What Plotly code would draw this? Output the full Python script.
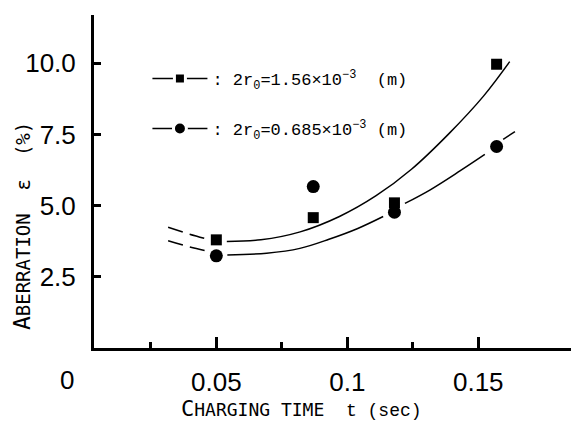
import plotly.graph_objects as go

# ---- data ----
t_points = [0.050, 0.087, 0.118, 0.157]
eps_large = [3.80, 4.58, 5.10, 9.97]      # 2r0 = 1.56e-3 m  (squares)
eps_small = [3.24, 5.67, 4.77, 7.08]      # 2r0 = 0.685e-3 m (circles)

# fitted curve for squares
up_dash_t = [0.0316, 0.0387, 0.0463]
up_dash_e = [4.24, 4.03, 3.83]
up_solid_t = [0.054, 0.067, 0.082, 0.097, 0.111, 0.1245, 0.139, 0.152, 0.162]
up_solid_e = [3.74, 3.80, 4.08, 4.62, 5.35, 6.28, 7.55, 8.85, 10.06]

# fitted curve for circles
lo_dash_t = [0.0316, 0.0387, 0.0463]
lo_dash_e = [3.77, 3.58, 3.41]
lo_solid_a_t = [0.0542, 0.0692, 0.0819, 0.093, 0.1040, 0.1137]
lo_solid_a_e = [3.27, 3.33, 3.50, 3.82, 4.20, 4.62]
lo_solid_b_t = [0.122, 0.1315, 0.143, 0.1525]
lo_solid_b_e = [5.08, 5.55, 6.22, 6.80]
lo_tail_t = [0.1595, 0.164]
lo_tail_e = [7.33, 7.60]

y_ticks = [2.5, 5.0, 7.5, 10.0]
y_labels = ["2.5", "5.0", "7.5", "10.0"]
y_long_ticks = [5.0, 10.0]
x_ticks = [0.05, 0.1, 0.15]
x_labels = ["0.05", "0.1", "0.15"]
x_minor = [0.025, 0.075, 0.125]

label_large = ":\u00a02r<sub>0</sub>=1.56×10<sup>−3</sup>\u00a0\u00a0(m)"
label_small = ":\u00a02r<sub>0</sub>=0.685×10<sup>−3</sup>\u00a0(m)"

TICKFONT = dict(family="Liberation Sans, Arial, sans-serif", size=26, color="black")

fig = go.Figure()

def seg(x, y, dash="solid"):
    fig.add_trace(go.Scatter(x=x, y=y, mode="lines", line=dict(color="black", width=1.5, dash=dash, shape="spline"),
                             showlegend=False, hoverinfo="skip"))

seg(up_dash_t, up_dash_e, "15px,8px")
seg(up_solid_t, up_solid_e)
seg(lo_dash_t, lo_dash_e, "15px,8px")
seg(lo_solid_a_t, lo_solid_a_e)
seg(lo_solid_b_t, lo_solid_b_e)
seg(lo_tail_t, lo_tail_e)

fig.add_trace(go.Scatter(x=t_points, y=eps_large, mode="markers",
                         marker=dict(symbol="square", size=11, color="black"), showlegend=False))
fig.add_trace(go.Scatter(x=t_points, y=eps_small, mode="markers",
                         marker=dict(symbol="circle", size=13, color="black"), showlegend=False))

# legend entries
fig.add_trace(go.Scatter(x=[None], y=[None], mode="lines+markers", name=label_large,
                         line=dict(color="black", width=1.5),
                         marker=dict(symbol="square", size=11, color="black", line=dict(color="white", width=3)),
                         legend="legend"))
fig.add_trace(go.Scatter(x=[None], y=[None], mode="lines+markers", name=label_small,
                         line=dict(color="black", width=1.5),
                         marker=dict(symbol="circle", size=13, color="black", line=dict(color="white", width=3)),
                         legend="legend2"))

legend_common = dict(font=dict(family="Liberation Mono, DejaVu Sans Mono", size=17, color="black"),
                     bgcolor="rgba(0,0,0,0)", xanchor="left", yanchor="middle", itemwidth=55)

fig.update_layout(
    width=571, height=429,
    margin=dict(l=94, r=0, t=15, b=81),
    plot_bgcolor="white", paper_bgcolor="white",
    font=dict(family="DejaVu Sans Mono", color="black"),
    legend=dict(x=0.112, y=0.808, **legend_common),
    legend2=dict(x=0.112, y=0.658, **legend_common),
    xaxis=dict(range=[0.0033, 0.1854], showline=True, linewidth=3, linecolor="black", mirror=False,
               showgrid=False, zeroline=False, ticks="inside", tickvals=x_ticks, ticktext=x_labels,
               ticklen=11, tickwidth=3, tickcolor="black", tickfont=TICKFONT, ticklabelstandoff=9,
               minor=dict(tickvals=x_minor, ticks="inside", ticklen=6, tickwidth=3, tickcolor="black", showgrid=False)),
    yaxis=dict(range=[0, 11.7], showline=True, linewidth=3, linecolor="black",
               showgrid=False, zeroline=False, ticks="inside", tickvals=y_ticks, ticktext=y_labels,
               ticklen=7, tickwidth=3, tickcolor="black", tickfont=TICKFONT, ticklabelstandoff=10),
    yaxis2=dict(range=[0, 11.7], overlaying="y", side="left", showline=False, showgrid=False, zeroline=False,
                ticks="inside", tickvals=y_long_ticks, ticklen=11, tickwidth=3, tickcolor="black",
                showticklabels=False),
    annotations=[
        dict(text="0", xref="paper", yref="paper", x=-0.0566, y=-0.096, showarrow=False,
             font=TICKFONT, xanchor="center", yanchor="middle"),
        dict(text='<span style="font-size:22px">C</span>HARGING TIME\u00a0\u00a0<span style="font-family:Liberation Mono;font-size:18px">t\u00a0(sec)</span>',
             xref="paper", yref="paper", x=0.436, y=-0.183, showarrow=False,
             font=dict(family="DejaVu Sans Mono", size=18, color="black"), xanchor="center", yanchor="middle"),
        dict(text='<span style="font-size:23px">A</span>BERRATION\u00a0\u00a0ε\u00a0\u00a0(%)',
             xref="paper", yref="paper", x=-0.151, y=0.366, showarrow=False, textangle=-90,
             font=dict(family="DejaVu Sans Mono", size=19, color="black"), xanchor="center", yanchor="middle"),
    ],
)

fig.write_html("out.html")
